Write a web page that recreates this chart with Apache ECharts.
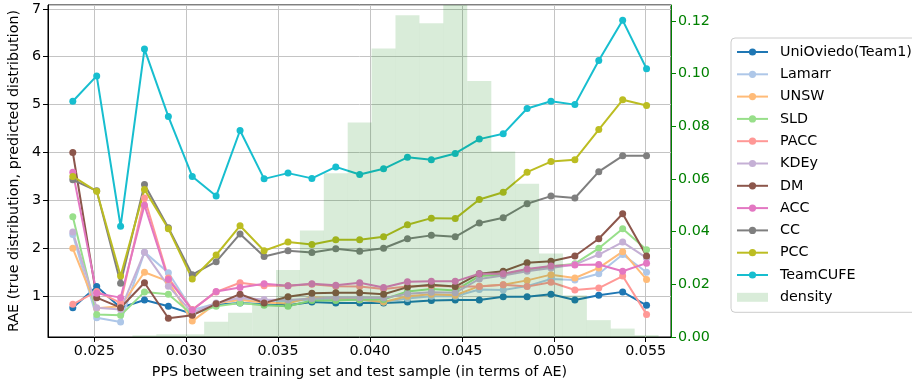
<!DOCTYPE html>
<html>
<head>
<meta charset="utf-8">
<title>RAE vs PPS</title>
<script src="https://cdn.jsdelivr.net/npm/echarts@6/dist/echarts.min.js"></script>
<style>
  html, body { margin: 0; padding: 0; background: #ffffff; }
  #chart { width: 912px; height: 383px; }
</style>
</head>
<body>
<div id="chart"></div>
<script>
// PPS bin centres (in terms of AE)
const ppsValues = [0.02383, 0.02513, 0.02643, 0.02773, 0.02903, 0.03033, 0.03163, 0.03293, 0.03424,
  0.03554, 0.03684, 0.03814, 0.03944, 0.04074, 0.04204, 0.04334, 0.04464, 0.04595, 0.04725,
  0.04855, 0.04985, 0.05115, 0.05245, 0.05375, 0.05505];

// RAE per method
const uniOviedo = [0.76, 1.20, 0.76, 0.92, 0.79, 0.63, 0.82, 0.86, 0.83, 0.81, 0.88, 0.86, 0.86, 0.86, 0.88, 0.91, 0.92, 0.92, 0.99, 0.99, 1.04, 0.92, 1.02, 1.09, 0.81];
const lamarr = [2.29, 0.55, 0.46, 1.92, 1.49, 0.71, 0.85, 0.95, 0.90, 0.90, 0.93, 0.93, 0.92, 0.88, 0.95, 1.00, 1.00, 1.14, 1.13, 1.21, 1.36, 1.34, 1.47, 1.87, 1.50];
const unsw = [2.00, 0.75, 0.79, 1.50, 1.31, 0.48, 0.85, 0.92, 0.87, 0.85, 0.98, 0.95, 0.93, 0.88, 1.00, 1.04, 1.02, 1.21, 1.24, 1.33, 1.45, 1.38, 1.59, 1.93, 1.35];
const sld = [2.66, 0.62, 0.60, 1.09, 1.04, 0.62, 0.79, 0.86, 0.81, 0.79, 0.91, 0.91, 0.93, 0.93, 1.10, 1.15, 1.12, 1.42, 1.45, 1.55, 1.62, 1.68, 2.00, 2.41, 1.97];
const pacc = [0.83, 1.10, 0.86, 3.05, 1.38, 0.72, 1.09, 1.28, 1.22, 1.22, 1.25, 1.21, 1.20, 1.15, 1.20, 1.22, 1.20, 1.20, 1.24, 1.20, 1.29, 1.13, 1.17, 1.42, 0.62];
const kdey = [2.34, 0.76, 0.72, 1.92, 1.21, 0.65, 0.86, 0.97, 0.93, 0.92, 0.95, 0.97, 0.97, 0.96, 1.05, 1.08, 1.07, 1.36, 1.43, 1.52, 1.59, 1.66, 1.87, 2.13, 1.80];
const dm = [4.00, 0.97, 0.76, 1.28, 0.54, 0.60, 0.84, 1.04, 0.86, 0.99, 1.06, 1.07, 1.07, 1.04, 1.19, 1.24, 1.20, 1.47, 1.52, 1.70, 1.73, 1.84, 2.20, 2.72, 1.84];
const acc = [3.59, 1.06, 0.97, 2.90, 1.35, 0.71, 1.10, 1.18, 1.26, 1.22, 1.26, 1.23, 1.28, 1.18, 1.30, 1.31, 1.31, 1.47, 1.47, 1.57, 1.63, 1.65, 1.66, 1.52, 1.69];
const cc = [3.43, 3.20, 1.27, 3.33, 2.43, 1.45, 1.72, 2.30, 1.83, 1.95, 1.91, 1.99, 1.94, 2.00, 2.20, 2.27, 2.24, 2.53, 2.64, 2.93, 3.09, 3.05, 3.60, 3.93, 3.93];
const pcc = [3.50, 3.19, 1.42, 3.23, 2.41, 1.36, 1.86, 2.47, 1.95, 2.13, 2.08, 2.18, 2.18, 2.24, 2.49, 2.63, 2.62, 3.02, 3.17, 3.59, 3.81, 3.85, 4.48, 5.10, 4.98];
const teamCufe = [5.07, 5.60, 2.46, 6.16, 4.75, 3.50, 3.09, 4.46, 3.45, 3.57, 3.46, 3.70, 3.54, 3.66, 3.90, 3.85, 3.98, 4.28, 4.39, 4.92, 5.07, 5.00, 5.92, 6.76, 5.75];

// share of test samples per PPS bin
const density = [0, 0, 0, 0.0006, 0.0010, 0.0010, 0.0058, 0.0092, 0.0123, 0.0254, 0.0404, 0.0621, 0.0814,
  0.1095, 0.1221, 0.1191, 0.1260, 0.0972, 0.0704, 0.0582, 0.0317, 0.0158, 0.0064, 0.0032, 0.0007];

const methods = [
  { name: 'UniOviedo(Team1)', values: uniOviedo, color: '#1f77b4' },
  { name: 'Lamarr', values: lamarr, color: '#aec7e8' },
  { name: 'UNSW', values: unsw, color: '#ffbb78' },
  { name: 'SLD', values: sld, color: '#98df8a' },
  { name: 'PACC', values: pacc, color: '#ff9896' },
  { name: 'KDEy', values: kdey, color: '#c5b0d5' },
  { name: 'DM', values: dm, color: '#8c564b' },
  { name: 'ACC', values: acc, color: '#e377c2' },
  { name: 'CC', values: cc, color: '#7f7f7f' },
  { name: 'PCC', values: pcc, color: '#bcbd22' },
  { name: 'TeamCUFE', values: teamCufe, color: '#17becf' }
];

const FONT = 'DejaVu Sans';
const pair = (vals) => vals.map((v, i) => [ppsValues[i], v]);

const lineSeries = methods.map(m => ({
  name: m.name,
  type: 'line',
  data: pair(m.values),
  color: m.color,
  symbol: 'circle',
  symbolSize: 7,
  showAllSymbol: true,
  lineStyle: { width: 2, color: m.color },
  itemStyle: { color: m.color },
  z: 2,
  animation: false
}));

const densitySeries = {
  name: 'density',
  type: 'bar',
  yAxisIndex: 1,
  data: pair(density),
  barWidth: 24,
  itemStyle: { color: 'rgba(0,128,0,0.15)' },
  z: 3,
  animation: false
};

const chart = echarts.init(document.getElementById('chart'), null, { renderer: 'canvas' });

chart.setOption({
  animation: false,
  backgroundColor: '#ffffff',
  textStyle: { fontFamily: FONT },
  grid: {
    left: 48, top: 5, width: 623, height: 332,
    show: true, borderColor: '#000000', borderWidth: 1,
    backgroundColor: 'transparent',
    containLabel: false,
    outerBoundsMode: 'none'
  },
  legend: {
    orient: 'vertical',
    left: 731, top: 38,
    padding: [7, 40, 8, 5],
    itemWidth: 31, itemHeight: 9, itemGap: 8.3,
    backgroundColor: 'rgba(255,255,255,0.8)',
    borderColor: '#cccccc', borderWidth: 1, borderRadius: 4,
    textStyle: { fontFamily: FONT, fontSize: 14.3, color: '#000000', padding: [0, 0, 0, 7] },
    data: methods.map(m => m.name).concat([{ name: 'density', icon: 'rect' }])
  },
  xAxis: {
    type: 'value',
    min: 0.02248, max: 0.05638,
    name: 'PPS between training set and test sample (in terms of AE)',
    nameLocation: 'middle', nameGap: 28,
    nameTextStyle: { fontFamily: FONT, fontSize: 14.3, color: '#000000' },
    axisLine: { show: true, lineStyle: { color: '#000000', width: 1 } },
    axisTick: { show: true, inside: false, length: 5, lineStyle: { color: '#000000' } },
    axisLabel: {
      fontFamily: FONT, fontSize: 14.3, color: '#000000', margin: 7,
      showMinLabel: false, showMaxLabel: false,
      formatter: v => v.toFixed(3)
    },
    splitLine: { show: true, lineStyle: { color: '#c4c4c4', width: 1 } }
  },
  yAxis: [
    {
      type: 'value',
      min: 0.148, max: 7.08,
      name: 'RAE (true distribution, predicted distribution)',
      nameLocation: 'middle', nameGap: 22, nameRotate: 90,
      nameTextStyle: { fontFamily: FONT, fontSize: 14.3, color: '#000000' },
      axisLine: { show: true, lineStyle: { color: '#000000', width: 1 } },
      axisTick: { show: true, inside: false, length: 5, lineStyle: { color: '#000000' } },
      axisLabel: {
        fontFamily: FONT, fontSize: 14.3, color: '#000000', margin: 7,
        showMinLabel: false, showMaxLabel: false,
        formatter: v => String(Math.round(v))
      },
      splitLine: { show: true, lineStyle: { color: '#c4c4c4', width: 1 } }
    },
    {
      type: 'value',
      position: 'right',
      min: 0, max: 0.126, interval: 0.02,
      axisLine: { show: true, lineStyle: { color: '#008000', width: 1 } },
      axisTick: { show: true, inside: false, length: 5, lineStyle: { color: '#008000' } },
      axisLabel: {
        fontFamily: FONT, fontSize: 14.3, color: '#008000', margin: 7,
        showMaxLabel: false,
        formatter: v => v.toFixed(2)
      },
      splitLine: { show: false }
    }
  ],
  series: lineSeries.concat([densitySeries])
});
</script>
</body>
</html>
